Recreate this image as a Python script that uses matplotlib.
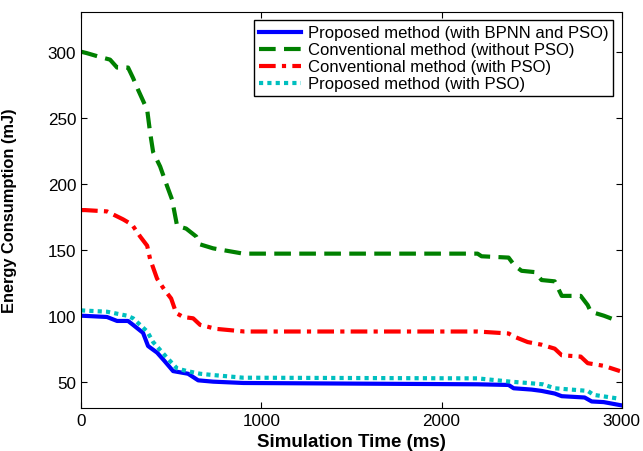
import matplotlib
matplotlib.use('Agg')
import matplotlib.pyplot as plt

plt.rcParams['font.family'] = ['Liberation Sans', 'DejaVu Sans']

# time points (ms) and energy values (mJ)
t_green = [0, 30, 105, 161, 200, 261, 289, 317, 367, 383, 400, 439, 478, 505, 533,
           583, 639, 661, 733, 900, 2200, 2222, 2372, 2405, 2444, 2517, 2555, 2628,
           2667, 2772, 2811, 2828, 2900, 2978]
e_green = [300, 299, 296, 294, 288, 288, 280, 271, 256, 239, 224, 213, 198, 188, 168,
           166, 160, 154, 151, 147, 147, 145, 144, 138, 134, 133, 127, 126,
           115, 115, 108, 103, 100, 96]

t_red = [0, 22, 144, 233, 283, 328, 367, 383, 422, 461, 500, 528, 567, 622, 661,
         750, 906, 2200, 2372, 2405, 2478, 2555, 2628, 2667, 2772, 2811, 2900, 2990]
e_red = [180, 180, 179, 173, 169, 160, 153, 143, 128, 120, 113, 102, 99, 98, 93,
         90, 88, 88, 86.5, 84, 80, 78, 75, 70, 69, 64, 62, 58]

t_blue = [0, 144, 200, 261, 289, 344, 372, 422, 461, 511, 594, 650, 733, 900, 2200,
          2372, 2400, 2500, 2555, 2628, 2667, 2794, 2833, 2900, 3000]
e_blue = [100, 99, 96, 96, 93, 87, 77, 72, 66, 58, 56, 51, 50, 49, 48,
          47.5, 45, 44, 43, 41, 39, 38, 35, 34.5, 32]

t_cyan = [0, 144, 255, 289, 367, 400, 439, 478, 533, 589, 661, 733, 900, 2200,
          2383, 2478, 2561, 2628, 2811, 2844, 2990]
e_cyan = [104, 103, 100, 98, 88, 80, 74, 68, 60, 58, 56, 55, 53, 52.5,
          50, 49, 48, 45, 43, 40, 37]

labels = ['Proposed method (with BPNN and PSO)',
          'Conventional method (without PSO)',
          'Conventional method (with PSO)',
          'Proposed method (with PSO)']

fig = plt.figure(figsize=(6.43, 4.52), dpi=100)
ax = fig.add_axes([0.126, 0.095, 0.841, 0.876])

ax.plot(t_blue, e_blue, '-', color='#0000ff', lw=3, label=labels[0])
ax.plot(t_green, e_green, '--', color='#008000', lw=3, dashes=(4, 2), label=labels[1])
ax.plot(t_red, e_red, '-.', color='#ff0000', lw=3, dashes=(4, 1.5, 1, 1.5), label=labels[2])
ax.plot(t_cyan, e_cyan, ':', color='#00bfbf', lw=3, dashes=(1, 1), label=labels[3])

ax.set_xlim(0, 3000)
ax.set_ylim(30, 330)
ax.set_xticks([0, 1000, 2000, 3000])
ax.set_yticks([50, 100, 150, 200, 250, 300])
ax.tick_params(direction='in', top=True, right=True, labelsize=12.3, length=4)

ax.set_xlabel('Simulation Time (ms)', fontsize=13.5, fontweight='bold')
ax.set_ylabel('Energy Consumption (mJ)', fontsize=11.8, fontweight='bold')
ax.yaxis.set_label_coords(-0.118, 0.5)

leg = ax.legend(loc='upper right', fontsize=12, fancybox=False, framealpha=1,
                edgecolor='black', handlelength=2.5, handletextpad=0.4,
                borderpad=0.3, labelspacing=0.12, borderaxespad=0.5)
leg.get_frame().set_linewidth(1)

fig.savefig('out.png', dpi=100)
